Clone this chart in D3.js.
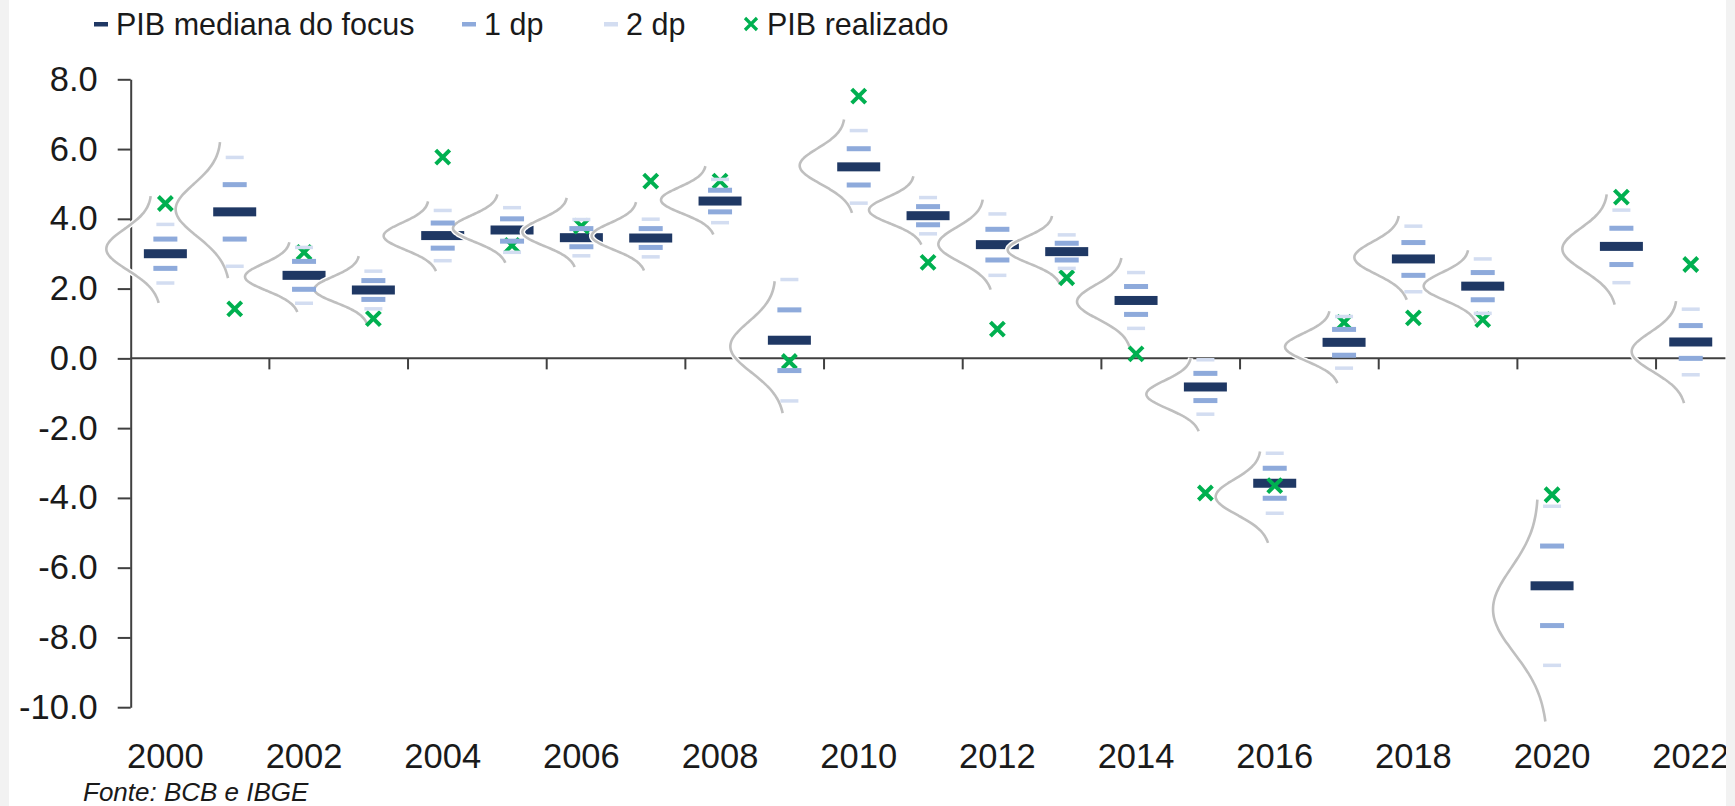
<!DOCTYPE html>
<html>
<head>
<meta charset="utf-8">
<script src="https://cdn.jsdelivr.net/npm/d3@7.9.0/dist/d3.min.js"></script>
<style>
  body { margin: 0; background: #f2f2f2; }
  svg { display: block; font-family: "Liberation Sans", Arial, sans-serif; }
</style>
</head>
<body>
<svg id="chart" width="1735" height="806"></svg>
<script>
// data
const years = [2000, 2001, 2002, 2003, 2004, 2005, 2006, 2007, 2008, 2009, 2010, 2011,
               2012, 2013, 2014, 2015, 2016, 2017, 2018, 2019, 2020, 2021, 2022];

// focus median forecast of GDP growth (%)
const focusMedian = [3.00, 4.20, 2.38, 1.96, 3.52, 3.68, 3.46, 3.45, 4.51, 0.52, 5.49, 4.09,
                     3.26, 3.06, 1.66, -0.82, -3.58, 0.46, 2.85, 2.07, -6.52, 3.21, 0.47];

// one standard deviation (dp) around the median
const focusDp = [0.42, 0.78, 0.40, 0.27, 0.36, 0.32, 0.26, 0.27, 0.31, 0.87, 0.52, 0.26,
                 0.44, 0.24, 0.40, 0.39, 0.43, 0.37, 0.47, 0.39, 1.14, 0.52, 0.47];

// realised GDP growth (%)
const pibRealizado = [4.44, 1.42, 3.04, 1.14, 5.77, 3.24, 3.79, 5.08, 5.08, -0.09, 7.52, 2.75,
                      0.84, 2.31, 0.13, -3.86, -3.65, 1.03, 1.16, 1.11, -3.91, 4.62, 2.69];

// grey bell curves: centre and half height, in % units
const curveCenter = [3.12, 4.25, 2.33, 1.97, 3.50, 3.72, 3.61, 3.50, 4.53, 0.32, 5.51, 4.24,
                     3.26, 3.10, 1.61, -1.04, -3.98, 0.32, 2.88, 2.06, -7.23, 3.12, 0.18];
const curveHalf = [1.53, 1.95, 1.00, 0.96, 1.00, 0.98, 0.99, 0.98, 0.98, 1.89, 1.34, 0.98,
                   1.29, 0.98, 1.27, 1.05, 1.31, 1.03, 1.20, 1.04, 3.18, 1.58, 1.46];

const yTicks = [-10, -8, -6, -4, -2, 0, 2, 4, 6, 8];
const xLabelYears = [2000, 2002, 2004, 2006, 2008, 2010, 2012, 2014, 2016, 2018, 2020, 2022];

const legendLabels = ['PIB mediana do focus', '1 dp', '2 dp', 'PIB realizado'];

// colours
const navy = '#1f3864';
const blue1 = '#8eaadb';
const blue2 = '#d3ddf1';
const green = '#00b050';
const grey = '#bfbfbf';
const ink = '#1a1a1a';

const svg = d3.select('#chart');

// white page area (screenshot has a light grey border on the sides)
svg.append('rect').attr('x', 0).attr('y', 0).attr('width', 1735).attr('height', 806).attr('fill', '#f2f2f2');
svg.append('rect').attr('x', 9).attr('y', 0).attr('width', 1717).attr('height', 806).attr('fill', '#fff');
svg.append('clipPath').attr('id', 'page')
    .append('rect').attr('x', 9).attr('y', 0).attr('width', 1717).attr('height', 806);

const g = svg.append('g').attr('clip-path', 'url(#page)');

const plot = { left: 130.7, right: 1725.4, top: 79.3, bottom: 707.2 };

const x = d3.scaleBand().domain(years).range([plot.left, plot.right]).padding(0);
const y = d3.scaleLinear().domain([-10, 8]).range([plot.bottom, plot.top]);
const cx = (yr) => x(yr) + x.bandwidth() / 2;

// y axis
const yAxis = g.append('g')
    .attr('transform', `translate(${plot.left},0)`)
    .call(d3.axisLeft(y)
        .tickValues(yTicks)
        .tickFormat((d) => d.toFixed(1))
        .tickSize(13)
        .tickSizeOuter(0)
        .tickPadding(20));
yAxis.select('.domain').attr('stroke', '#404040').attr('stroke-width', 2);
yAxis.selectAll('.tick line').attr('stroke', '#404040').attr('stroke-width', 2);
yAxis.selectAll('.tick text').attr('fill', ink).style('font-size', '34.5px');

// x axis at zero, ticks every two years at band edges
const xAxis = g.append('g');
xAxis.append('line')
    .attr('x1', plot.left).attr('x2', plot.right)
    .attr('y1', y(0)).attr('y2', y(0))
    .attr('stroke', '#404040').attr('stroke-width', 2);
xAxis.selectAll('line.tick')
    .data(xLabelYears.slice(1))
    .join('line')
    .attr('class', 'tick')
    .attr('x1', (d) => x(d)).attr('x2', (d) => x(d))
    .attr('y1', y(0)).attr('y2', y(0) + 11)
    .attr('stroke', '#404040').attr('stroke-width', 2);
xAxis.selectAll('text')
    .data(xLabelYears)
    .join('text')
    .attr('x', (d) => cx(d))
    .attr('y', 756)
    .attr('dy', '0.35em')
    .attr('text-anchor', 'middle')
    .attr('fill', ink)
    .style('font-size', '34.5px')
    .text((d) => d);

// median bars
g.append('g').selectAll('rect')
    .data(years)
    .join('rect')
    .attr('x', (d) => cx(d) - 21.5)
    .attr('y', (d, i) => y(focusMedian[i]) - 4.5)
    .attr('width', 43)
    .attr('height', 9)
    .attr('fill', navy);

// bell curves drawn sideways, left of each year
const K = 2.6;
const curveLine = d3.line().curve(d3.curveCatmullRom);
const curveData = years.map((yr, i) => d3.range(61).map((j) => {
    const t = j / 30 - 1;
    const z = t * K;
    return [cx(yr) - 9 - 4 * t - 50 * Math.exp(-z * z / 2), y(curveCenter[i] + t * curveHalf[i])];
}));
const curves = g.append('g').attr('fill', 'none');
curves.selectAll('path.halo')
    .data(curveData)
    .join('path')
    .attr('class', 'halo')
    .attr('d', curveLine)
    .attr('stroke', '#fff')
    .attr('stroke-width', 5.5);
curves.selectAll('path.bell')
    .data(curveData)
    .join('path')
    .attr('class', 'bell')
    .attr('d', curveLine)
    .attr('stroke', grey)
    .attr('stroke-width', 2.6);

// realised GDP crosses
const crossPath = 'M-7,-7L7,7M-7,7L7,-7';
g.append('g').selectAll('path')
    .data(years)
    .join('path')
    .attr('d', crossPath)
    .attr('transform', (d, i) => `translate(${cx(d)},${y(pibRealizado[i])})`)
    .attr('stroke', green)
    .attr('stroke-width', 4)
    .attr('fill', 'none');

// 1 dp and 2 dp bars
function dpBars(k, w, h, color) {
    const data = years.flatMap((yr, i) => [
        { yr, v: focusMedian[i] + k * focusDp[i] },
        { yr, v: focusMedian[i] - k * focusDp[i] }
    ]);
    g.append('g').selectAll('rect')
        .data(data)
        .join('rect')
        .attr('x', (d) => cx(d.yr) - w / 2)
        .attr('y', (d) => y(d.v) - h / 2)
        .attr('width', w)
        .attr('height', h)
        .attr('fill', color);
}
dpBars(1, 24, 5, blue1);
dpBars(2, 18, 3.5, blue2);

// legend
const legendX = [116, 484, 626, 767];
const legendY = 24;
const legend = g.append('g');
legendLabels.forEach((label, i) => {
    const lx = legendX[i];
    if (i < 3) {
        legend.append('rect')
            .attr('x', lx - 22).attr('y', legendY - 2)
            .attr('width', 14).attr('height', 4.5)
            .attr('fill', [navy, blue1, blue2][i]);
    } else {
        legend.append('path')
            .attr('d', 'M-6,-6L6,6M-6,6L6,-6')
            .attr('transform', `translate(${lx - 16},${legendY})`)
            .attr('stroke', green).attr('stroke-width', 3.2).attr('fill', 'none');
    }
    legend.append('text')
        .attr('x', lx).attr('y', legendY)
        .attr('dy', '0.35em')
        .attr('fill', ink)
        .style('font-size', '30.5px')
        .text(label);
});

// source note
g.append('text')
    .attr('x', 83).attr('y', 792)
    .attr('dy', '0.35em')
    .attr('fill', ink)
    .style('font-size', '26px')
    .style('font-style', 'italic')
    .text('Fonte: BCB e IBGE');
</script>
</body>
</html>
